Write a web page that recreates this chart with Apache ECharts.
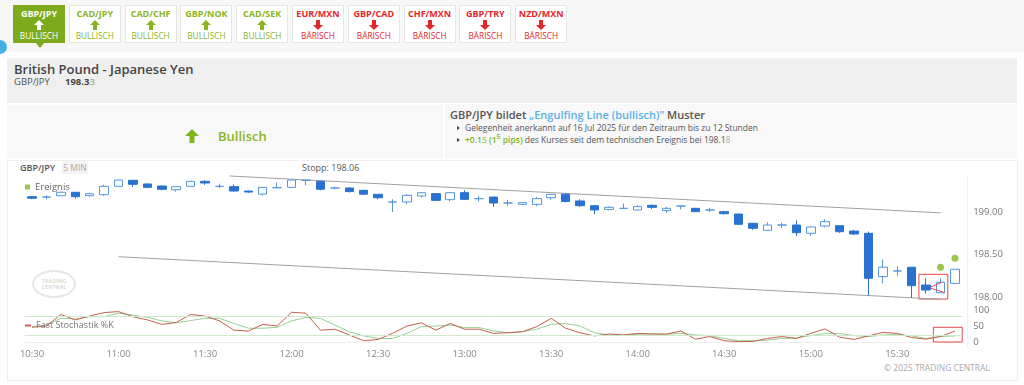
<!DOCTYPE html>
<html><head><meta charset="utf-8">
<script src="https://cdn.jsdelivr.net/npm/echarts@6/dist/echarts.min.js"></script>
<style>
html,body{margin:0;padding:0;width:1024px;height:385px;overflow:hidden;background:#fff;font-family:'Open Sans',sans-serif;color:#555}
.a{position:absolute}
#topbar{left:0;top:0;width:1024px;height:52px;background:#f7f7f7}
.tab{position:absolute;top:5px;width:52px;height:38px;background:#fff;border:1px solid #e6e6e6;box-sizing:border-box;text-align:center}
.tab .n{font-size:9px;font-weight:700;line-height:11px;margin-top:2px;white-space:nowrap}
.tab svg{display:block;margin:1px auto 1px}
.tab .l{font-size:8.3px;line-height:10px;white-space:nowrap}
.tab.act{background:#7eab1e;border-color:#7eab1e}
.tab.act .n,.tab.act .l{color:#fff}
.tab.act:after{content:'';position:absolute;left:21px;bottom:-6px;border-left:5px solid transparent;border-right:5px solid transparent;border-top:6px solid #7eab1e}
#chart{left:0;top:0;width:1024px;height:385px;z-index:2}
.bul{display:inline-block;width:0;height:0;border-top:2.5px solid transparent;border-bottom:2.5px solid transparent;border-left:3.5px solid #444;margin-right:5px;vertical-align:1px}
</style></head>
<body>
<div id="topbar" class="a"></div>
<div class="a" style="left:-7px;top:40px;width:14px;height:14px;border-radius:7px;background:#45b0e6"></div>
<div id="tabs"></div>

<div class="a" style="left:7px;top:58px;width:1010px;height:45px;background:#efefef"></div>
<div class="a" style="left:14px;top:61px;font-size:13px;font-weight:600;color:#444;line-height:17px">British Pound - Japanese Yen</div>
<div class="a" style="left:14px;top:76px;font-size:9.5px;color:#555;line-height:12px">GBP/JPY</div>
<div class="a" style="left:65px;top:76px;font-size:9.5px;font-weight:700;color:#444;line-height:12px">198.3<span style="color:#aaa;font-weight:600">3</span></div>

<div class="a" style="left:7px;top:105px;width:436px;height:53px;background:#f8f8f8"></div>
<svg class="a" style="left:185px;top:129px" width="14" height="14" viewBox="0 0 14 14"><polygon points="7,0 14,7 9.5,7 9.5,14 4.5,14 4.5,7 0,7" fill="#7cb518"/></svg>
<div class="a" style="left:218px;top:128px;font-size:13px;font-weight:600;color:#8ab41d;line-height:17px">Bullisch</div>

<div class="a" style="left:445px;top:104px;width:572px;height:54px;background:#f8f8f8"></div>
<div class="a" style="left:450px;top:108px;font-size:11px;font-weight:600;color:#555;line-height:14px;white-space:nowrap">GBP/JPY bildet <span style="color:#5ab1e8">„Engulfing Line (bullisch)"</span> Muster</div>
<div class="a" style="left:457px;top:122px;font-size:8.5px;color:#555;line-height:11px;white-space:nowrap"><span class="bul"></span>Gelegenheit anerkannt auf 16 Jul 2025 für den Zeitraum bis zu 12 Stunden</div>
<div class="a" style="left:457px;top:134px;font-size:8.5px;color:#555;line-height:11px;white-space:nowrap"><span class="bul"></span><span style="color:#7cb518;font-weight:600">+0.1<span style="color:#a5cf60">5</span> (1<sup style="font-size:7px;line-height:0">5</sup> pips)</span> des Kurses seit dem technischen Ereignis bei 198.1<span style="color:#aaa">8</span></div>

<div class="a" style="left:7px;top:160px;width:1009px;height:219px;background:#fff;border:1px solid #eeeeee"></div>
<div class="a" style="left:20px;top:162px;font-size:9px;font-weight:600;color:#555;line-height:12px">GBP/JPY</div>
<div class="a" style="left:62px;top:161px;width:26px;height:13px;background:#f4f4f4;font-size:8.5px;color:#aaa;line-height:13px;text-align:center">5 MIN</div>
<div class="a" style="left:302px;top:162px;font-size:9px;color:#555;line-height:12px">Stopp: 198.06</div>
<div class="a" style="left:967px;top:175px;width:1px;height:173px;background:#f2f2f2"></div>
<div class="a" style="left:32px;top:270px;width:40px;height:24px;border:2px solid #e6e6e6;border-radius:50%;text-align:center;font-size:5.5px;font-weight:700;color:#dcdcdc;line-height:6px;box-sizing:content-box"><div style="margin-top:6px">TRADING</div><div>CENTRAL</div></div>
<div class="a" style="left:884px;top:362px;font-size:8.5px;color:#aaa;line-height:12px">© 2025 TRADING CENTRAL</div>

<div id="chart" class="a"></div>
<script>
// ---- tabs ----
const tabPairs = ['GBP/JPY','CAD/JPY','CAD/CHF','GBP/NOK','CAD/SEK','EUR/MXN','GBP/CAD','CHF/MXN','GBP/TRY','NZD/MXN'];
const tabSignals = ['BULLISCH','BULLISCH','BULLISCH','BULLISCH','BULLISCH','BÄRISCH','BÄRISCH','BÄRISCH','BÄRISCH','BÄRISCH'];

// ---- chart data ----
const times = ['10:30','10:35','10:40','10:45','10:50','10:55',
 '11:00','11:05','11:10','11:15','11:20','11:25','11:30','11:35','11:40','11:45','11:50','11:55',
 '12:00','12:05','12:10','12:15','12:20','12:25','12:30','12:35','12:40','12:45','12:50','12:55',
 '13:00','13:05','13:10','13:15','13:20','13:25','13:30','13:35','13:40','13:45','13:50','13:55',
 '14:00','14:05','14:10','14:15','14:20','14:25','14:30','14:35','14:40','14:45','14:50','14:55',
 '15:00','15:05','15:10','15:15','15:20','15:25','15:30','15:35','15:40','15:45','15:50'];
// [open, close, low, high]
const candles = [
 [199.180,199.162,199.150,199.188],[199.176,199.176,199.150,199.196],[199.192,199.232,199.190,199.240],
 [199.232,199.180,199.157,199.235],[199.192,199.215,199.182,199.218],[199.204,199.302,199.190,199.320],
 [199.302,199.376,199.300,199.378],[199.373,199.326,199.294,199.376],[199.330,199.290,199.283,199.336],
 [199.306,199.267,199.255,199.310],[199.262,199.298,199.240,199.300],[199.302,199.361,199.300,199.363],
 [199.361,199.341,199.320,199.373],[199.302,199.302,199.283,199.333],[199.298,199.247,199.240,199.325],
 [199.247,199.235,199.225,199.250],[199.210,199.290,199.195,199.292],[199.286,199.286,199.286,199.345],
 [199.290,199.376,199.288,199.378],[199.373,199.373,199.318,199.375],[199.361,199.267,199.255,199.365],
 [199.282,199.282,199.267,199.298],[199.282,199.240,199.230,199.290],[199.255,199.210,199.200,199.260],
 [199.208,199.168,199.150,199.210],[199.118,199.118,199.000,199.150],[199.118,199.196,199.090,199.210],
 [199.188,199.227,199.170,199.230],[199.216,199.137,199.130,199.220],[199.145,199.227,199.125,199.235],
 [199.227,199.149,199.145,199.255],[199.157,199.157,199.125,199.188],[199.176,199.106,199.060,199.180],
 [199.106,199.106,199.075,199.140],[199.090,199.110,199.080,199.115],[199.090,199.157,199.068,199.176],
 [199.168,199.208,199.145,199.212],[199.210,199.123,199.115,199.220],[199.130,199.074,199.060,199.150],
 [199.074,199.024,198.976,199.080],[199.030,199.055,199.020,199.065],[199.043,199.043,199.043,199.100],
 [199.024,199.063,199.020,199.080],[199.078,199.055,199.036,199.090],[199.016,199.043,198.990,199.060],
 [199.070,199.070,199.030,199.072],[199.043,199.004,199.000,199.050],[199.024,199.024,199.000,199.050],
 [199.004,198.980,198.970,199.015],[198.976,198.855,198.850,198.980],[198.867,198.808,198.790,198.870],
 [198.785,198.847,198.780,198.880],[198.847,198.847,198.810,198.875],[198.847,198.757,198.720,198.900],
 [198.749,198.824,198.720,198.830],[198.835,198.886,198.820,198.915],[198.839,198.768,198.755,198.845],
 [198.776,198.741,198.730,198.790],[198.749,198.220,198.020,198.770],[198.240,198.350,198.160,198.440],
 [198.306,198.306,198.250,198.360],[198.350,198.133,197.990,198.350],[198.141,198.082,198.040,198.220],
 [198.050,198.173,198.050,198.220],[198.160,198.326,198.160,198.330]];
const stochK = [46,50,86,69,81,92,95,79,69,55,61,86,81,66,37,34,55,50,93,90,37,40,22,4,8,27,50,60,37,58,40,40,27,29,
 32,48,74,43,29,19,25,22,27,25,25,34,9,17,4,1,2,11,17,11,27,41,15,8,19,30,27,14,9,17,34];
const stochD = [48,53,74,72,79,79,90,84,77,66,60,67,74,74,58,43,43,46,66,77,74,53,32,19,11,11,27,48,50,53,45,45,35,29,
 32,40,55,58,50,29,22,22,24,25,24,27,22,20,11,4,4,6,11,13,20,27,27,20,17,22,24,19,11,17,19];
const stochBands = [80,20];
const events = [[63,198.35],[64,198.455]];          // [candle index, price]
const trendUpper = [[13.7,199.424],[63,198.990]];
const trendLower = [[6,198.474],[63,197.973]];
const patternLineA = [[62.3,198.115],[63.1,198.175]];
const patternLineB = [[62.3,198.105],[63.3,198.050]];
const patternBox = [[61.5,198.267],[63.5,197.976]];
const stochBox = [[62.5,46],[64.5,0]];
const lastPrice = 198.33;

// build tabs
const up = c => `<svg width="10" height="10" viewBox="0 0 10 10"><polygon points="5,0 10,5 7,5 7,10 3,10 3,5 0,5" fill="${c}"/></svg>`;
const dn = c => `<svg width="10" height="10" viewBox="0 0 10 10"><polygon points="3,0 7,0 7,5 10,5 5,10 0,5 3,5" fill="${c}"/></svg>`;
let th = '';
tabPairs.forEach((p,i)=>{
  const bull = tabSignals[i]==='BULLISCH';
  const act = i===0;
  const col = act ? '#fff' : (bull ? '#8ab41d' : '#e3262b');
  th += `<div class="tab${act?' act':''}" style="left:${13+i*55.8}px"><div class="n" style="color:${col}">${p}</div>${bull?up(col):dn(col)}<div class="l" style="color:${col}">${tabSignals[i]}</div></div>`;
});
document.getElementById('tabs').innerHTML = th;

const chart = echarts.init(document.getElementById('chart'));
const gridL = 24.79, gridW = 937.4;
chart.setOption({
  animation:false,
  backgroundColor:'transparent',
  textStyle:{fontFamily:'Open Sans'},
  legend:[
    {data:['Ereignis'], left:20, top:177, icon:'rect', itemWidth:5, itemHeight:5, selectedMode:false,
     textStyle:{fontSize:9.5,color:'#666',fontFamily:'Open Sans'}},
    {data:['Fast Stochastik %K'], left:20, top:316, icon:'rect', itemWidth:6, itemHeight:2, selectedMode:false,
     textStyle:{fontSize:9,color:'#777',fontFamily:'Open Sans'}}
  ],
  grid:[
    {left:gridL, width:gridW, top:169.5, height:170},
    {left:gridL, width:gridW, top:310, height:32}
  ],
  xAxis:[
    {type:'category', gridIndex:0, data:times, boundaryGap:true, show:false},
    {type:'category', gridIndex:1, data:times, boundaryGap:true,
     axisLine:{lineStyle:{color:'#eeeeee'}}, axisTick:{show:false},
     axisLabel:{interval:5, color:'#888', fontSize:9.5, margin:7, fontFamily:'Open Sans'}},
    {type:'value', gridIndex:0, min:-0.5, max:64.5, show:false},
    {type:'value', gridIndex:1, min:-0.5, max:64.5, show:false}
  ],
  yAxis:[
    {type:'value', gridIndex:0, position:'right', min:197.5, max:199.5, interval:0.5,
     splitLine:{show:false}, axisLine:{show:false}, axisTick:{show:false},
     axisLabel:{showMinLabel:false, showMaxLabel:false, formatter:v=>v.toFixed(2), color:'#777', fontSize:9.5, margin:11, fontFamily:'Open Sans'}},
    {type:'value', gridIndex:1, position:'right', min:0, max:100, interval:50,
     splitLine:{show:false}, axisLine:{show:false}, axisTick:{show:false},
     axisLabel:{color:'#777', fontSize:9.5, margin:11, fontFamily:'Open Sans'}}
  ],
  series:[
    {type:'line', name:'upper', xAxisIndex:2, yAxisIndex:0, data:trendUpper, symbol:'none', silent:true,
     lineStyle:{color:'#a0a0a0', width:1}, z:1},
    {type:'line', name:'lower', xAxisIndex:2, yAxisIndex:0, data:trendLower, symbol:'none', silent:true,
     lineStyle:{color:'#a0a0a0', width:1}, z:1},
    {type:'candlestick', name:'GBP/JPY', xAxisIndex:0, yAxisIndex:0, data:candles, barWidth:9, z:3,
     itemStyle:{color:'#ffffff', borderColor:'#5596e0', color0:'#2a72d1', borderColor0:'#2a72d1', borderColorDoji:'#5596e0', borderWidth:1},
     markLine:{silent:true, symbol:['none','none'], lineStyle:{opacity:0}, animation:false,
       data:[{yAxis:lastPrice}],
       label:{show:true, position:'end', distance:4, formatter:p=>'{a|◀}{b|'+p.value.toFixed(2)+'}',
         rich:{a:{color:'#2a72d1', fontSize:8},
               b:{backgroundColor:'#2a72d1', color:'#fff', fontSize:9.5, padding:[2,8,1,7], fontFamily:'Open Sans'}}}}
    },
    {type:'line', name:'patA', xAxisIndex:2, yAxisIndex:0, data:patternLineA, symbol:'none', silent:true,
     lineStyle:{color:'#e8474b', width:1}, z:4,
     markArea:{silent:true, itemStyle:{color:'rgba(0,0,0,0)', borderColor:'#e8474b', borderWidth:1},
       data:[[{coord:patternBox[0]},{coord:patternBox[1]}]]}},
    {type:'line', name:'patB', xAxisIndex:2, yAxisIndex:0, data:patternLineB, symbol:'none', silent:true,
     lineStyle:{color:'#e8474b', width:1}, z:4},
    {type:'scatter', name:'Ereignis', xAxisIndex:2, yAxisIndex:0, data:events, symbolSize:7,
     itemStyle:{color:'#82b71e'}, z:5},
    {type:'line', name:'%D', xAxisIndex:1, yAxisIndex:1, data:stochD, symbol:'none', silent:true,
     lineStyle:{color:'#96d096', width:1}, z:2,
     markLine:{silent:true, symbol:['none','none'], label:{show:false},
       lineStyle:{color:'#cfe9cf', width:1, type:'solid'},
       data:stochBands.map(v=>({yAxis:v}))}},
    {type:'line', name:'Fast Stochastik %K', xAxisIndex:1, yAxisIndex:1, data:stochK, symbol:'none', silent:true,
     itemStyle:{color:'#c4614a'}, lineStyle:{color:'#c4614a', width:1}, z:3},
    {type:'line', name:'stochBox', xAxisIndex:3, yAxisIndex:1, data:stochBox, symbol:'none', silent:true,
     lineStyle:{width:0, opacity:0}, z:4,
     markArea:{silent:true, itemStyle:{color:'rgba(0,0,0,0)', borderColor:'#e8474b', borderWidth:1},
       data:[[{coord:stochBox[0]},{coord:stochBox[1]}]]}}
  ]
});
</script>
</body></html>
